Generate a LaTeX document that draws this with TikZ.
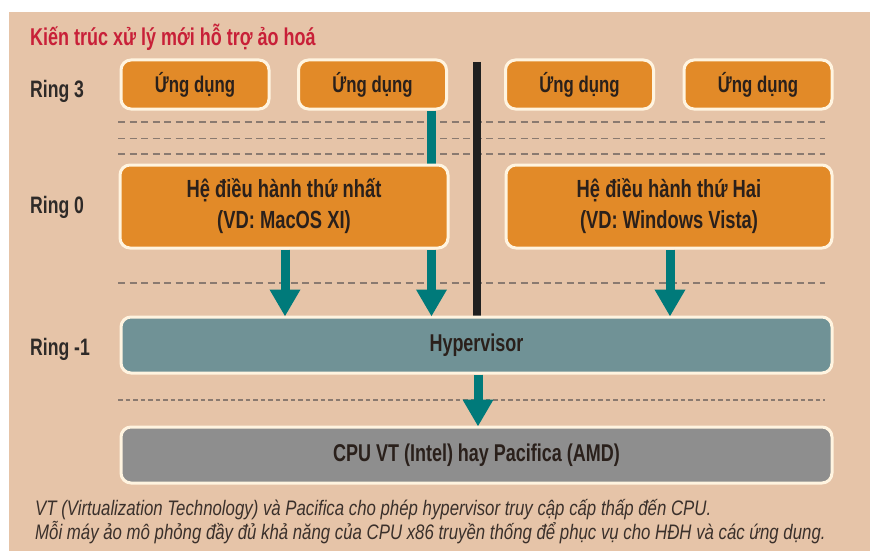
\documentclass[tikz,border=0pt]{standalone}
\usepackage{fontspec}
\usetikzlibrary{arrows.meta}
\newfontfamily\cf[FakeStretch=0.8]{Liberation Sans}
\newfontfamily\cfb[FakeStretch=0.74]{Liberation Sans}
\definecolor{bgc}{HTML}{E6C4A8}
\definecolor{orangec}{HTML}{E28A28}
\definecolor{hypc}{HTML}{709296}
\definecolor{cpuc}{HTML}{8E8E8E}
\definecolor{tealc}{HTML}{007A7A}
\definecolor{titlec}{HTML}{C82038}
\definecolor{darkc}{HTML}{2A201B}
\definecolor{ringc}{HTML}{2E2A28}
\definecolor{capc}{HTML}{3A302B}
\definecolor{edgec}{HTML}{FFF4E0}
\definecolor{dashc}{HTML}{8A7A70}
\begin{document}
\begin{tikzpicture}[x=1pt,y=-1pt,
  boxbase/.style={draw=edgec, line width=3pt, rounded corners=10pt, inner sep=0pt, text=darkc, align=center},
  appbox/.style={boxbase, fill=orangec, minimum width=148pt, minimum height=49pt, font=\cfb\bfseries\fontsize{22.7}{24}\selectfont},
  osbox/.style={boxbase, fill=orangec, minimum height=83pt, font=\cfb\bfseries\fontsize{24.8}{31}\selectfont},
  widebox/.style={boxbase, minimum width=711pt, minimum height=56pt, font=\cfb\bfseries\fontsize{24.3}{26}\selectfont},
  ringlbl/.style={font=\cfb\bfseries\fontsize{23.8}{24}\selectfont, text=ringc, inner sep=0pt, anchor=base west},
  caplbl/.style={font=\cf\itshape\fontsize{21}{24}\selectfont, text=capc, inner sep=0pt, anchor=base west},
  dashline/.style={draw=dashc, line width=1.8pt, dash pattern=on 7pt off 4.5pt},
  fineline/.style={draw=dashc, line width=1.6pt, dash pattern=on 4.5pt off 3pt},
  tealarrow/.style={draw=tealc, line width=9pt, -{Triangle[width=29pt,length=27pt]}},
  tealline/.style={draw=tealc, line width=8.5pt},
  sepline/.style={draw=black!88, line width=8pt}
]
\useasboundingbox (0,0) rectangle (870,551);
\fill[bgc] (9,12) rectangle (870,551);

% title
\node[anchor=base west, inner sep=0pt, text=titlec, font=\cfb\bfseries\fontsize{24.3}{24}\selectfont] (title) at (30,46) {Kiến trúc xử lý mới hỗ trợ ảo hoá};

% ring labels
\node[ringlbl] (r3) at (30,97) {Ring 3};
\node[ringlbl] (r0) at (30,213) {Ring 0};
\node[ringlbl] (rm1) at (30,355) {Ring -1};

% dashed separators
\draw[dashline] (118,122) -- (825,122);
\draw[dashline] (118,138.5) -- (825,138.5);
\draw[dashline] (118,154) -- (825,154);
\draw[dashline] (118,283) -- (825,283);
\draw[fineline] (118,400) -- (825,400);

% coordinates for vertical connectors
\coordinate (c1) at (285,0);
\coordinate (c2) at (431.5,0);
\coordinate (c3) at (670,0);
\coordinate (vtop) at (477,62);

\node[appbox] (app1) at (195,84.5) {Ứng dụng};
\node[appbox] (app2) at (372.5,84.5) {Ứng dụng};
\node[appbox] (app3) at (579.5,84.5) {Ứng dụng};
\node[appbox] (app4) at (758,84.5) {Ứng dụng};

% teal link app2 -> os1 and black separator (behind boxes)
\draw[tealline] (app2.south -| c2) -- (c2 |- 0,166);
\draw[sepline] (vtop) -- (vtop |- 0,318);

\node[osbox, minimum width=328pt] (os1) at (284,206.5) {Hệ điều hành thứ nhất\\(VD: MacOS XI)};
\node[osbox, minimum width=326pt] (os2) at (669,206.5) {Hệ điều hành thứ Hai\\(VD: Windows Vista)};

\node[widebox, fill=hypc] (hyp) at (476.5,345) {Hypervisor};
\node[widebox, fill=cpuc] (cpu) at (476.5,455) {\raisebox{-5pt}{CPU VT (Intel) hay Pacifica (AMD)}};

% arrows
\draw[tealarrow] (os1.south -| c1) -- ([yshift=-1pt]hyp.north -| c1);
\draw[tealarrow] (os1.south -| c2) -- ([yshift=-1pt]hyp.north -| c2);
\draw[tealarrow] (os2.south -| c3) -- ([yshift=-1pt]hyp.north -| c3);
\draw[tealarrow] ([xshift=1.5pt]hyp.south) -- ([xshift=1.5pt,yshift=-1pt]cpu.north);

% caption
\node[caplbl] (cap1) at (35,515) {VT (Virtualization Technology) và Pacifica cho phép hypervisor truy cập cấp thấp đến CPU.};
\node[caplbl] (cap2) at (35,539) {Mỗi máy ảo mô phỏng đầy đủ khả năng của CPU x86 truyền thống để phục vụ cho HĐH và các ứng dụng.};
\end{tikzpicture}
\end{document}
